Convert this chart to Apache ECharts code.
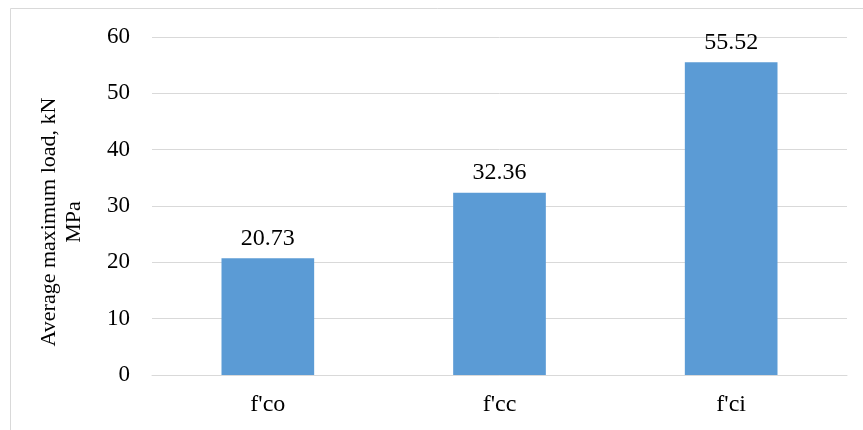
<!DOCTYPE html>
<html lang="en">
<head>
    <meta charset="UTF-8">
    <title>Average maximum load</title>
    <script src="https://cdn.jsdelivr.net/npm/echarts@6/dist/echarts.min.js"></script>
    <style>
        html, body { margin: 0; padding: 0; background: #fff; }
        #chart { width: 863px; height: 430px; }
    </style>
</head>
<body>
<div id="chart"></div>
<script type="text/javascript">
    // data
    const categories = ["f'co", "f'cc", "f'ci"];
    const loads = [20.73, 32.36, 55.52];
    const yTicks = { min: 0, max: 60, interval: 10 };

    const font = '"Liberation Serif", "Times New Roman", serif';

    let myChart = echarts.init(document.getElementById('chart'));
    myChart.setOption({
        animation: false,
        textStyle: { fontFamily: font },
        grid: { left: 152, right: 16, top: 37, bottom: 55 },
        graphic: [
            {
                // chart border (cropped on right and bottom)
                type: 'rect',
                shape: { x: 10.5, y: 8.5, width: 900, height: 500 },
                style: { fill: 'none', stroke: '#D9D9D9', lineWidth: 1 },
                silent: true
            },
            {
                type: 'text',
                x: 62, y: 222,
                rotation: Math.PI / 2,
                style: {
                    text: 'Average maximum load, kN\nMPa',
                    font: '22px ' + font,
                    fill: '#000',
                    align: 'center',
                    verticalAlign: 'middle',
                    lineHeight: 25
                }
            }
        ],
        xAxis: {
            type: 'category',
            data: categories,
            axisLine: { lineStyle: { color: '#D9D9D9' } },
            axisTick: { show: false },
            axisLabel: { color: '#000', fontSize: 24, fontFamily: font, margin: 18 }
        },
        yAxis: {
            type: 'value',
            min: yTicks.min,
            max: yTicks.max,
            interval: yTicks.interval,
            axisLine: { show: false },
            axisTick: { show: false },
            axisLabel: { color: '#000', fontSize: 23, fontFamily: font, margin: 22 },
            splitLine: { lineStyle: { color: '#D9D9D9', width: 1 } }
        },
        series: [{
            type: 'bar',
            data: loads,
            barWidth: '40%',
            itemStyle: { color: '#5B9BD5' },
            label: {
                show: true,
                position: 'top',
                distance: 8,
                color: '#000',
                fontSize: 24,
                fontFamily: font,
                formatter: (p) => p.value.toFixed(2)
            }
        }]
    });
</script>
</body>
</html>
